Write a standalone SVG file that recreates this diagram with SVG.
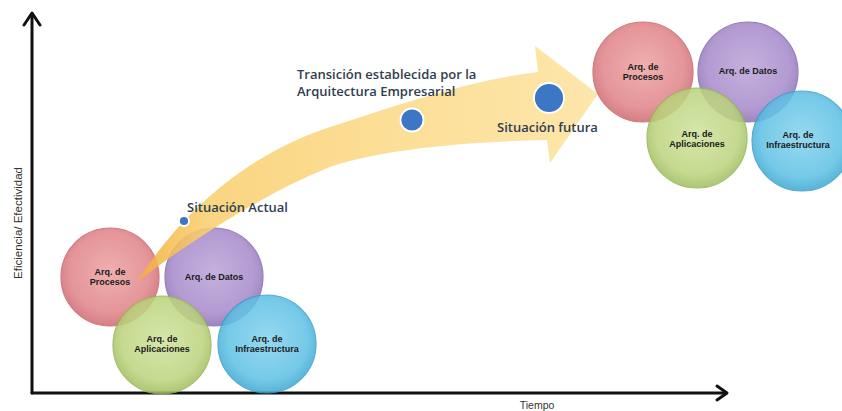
<svg xmlns="http://www.w3.org/2000/svg" width="842" height="411" viewBox="0 0 842 411">
<defs>
<radialGradient id="gRed" cx="50%" cy="45%" r="55%"><stop offset="0" stop-color="#eea3a3"/><stop offset="0.75" stop-color="#e08489"/><stop offset="1" stop-color="#cd6a72"/></radialGradient>
<radialGradient id="gPur" cx="50%" cy="45%" r="55%"><stop offset="0" stop-color="#bba4d8"/><stop offset="0.75" stop-color="#a78bcb"/><stop offset="1" stop-color="#8d72b6"/></radialGradient>
<radialGradient id="gGrn" cx="50%" cy="45%" r="55%"><stop offset="0" stop-color="#cfe39c"/><stop offset="0.75" stop-color="#bcd47e"/><stop offset="1" stop-color="#a0bd5e"/></radialGradient>
<radialGradient id="gBlu" cx="50%" cy="45%" r="55%"><stop offset="0" stop-color="#86d3ee"/><stop offset="0.75" stop-color="#5fc1e5"/><stop offset="1" stop-color="#3ea8d2"/></radialGradient>
<linearGradient id="gBand" x1="137" y1="0" x2="600" y2="0" gradientUnits="userSpaceOnUse"><stop offset="0" stop-color="#f2ae3a"/><stop offset="0.15" stop-color="#f9cf70"/><stop offset="0.5" stop-color="#fbd986"/><stop offset="1" stop-color="#fde3a0"/></linearGradient>
<style>
.c{opacity:0.86;stroke-width:1.2}
.red{fill:url(#gRed);stroke:#c8656d}
.pur{fill:url(#gPur);stroke:#866aae}
.grn{fill:url(#gGrn);stroke:#97b556}
.blu{fill:url(#gBlu);stroke:#38a0c9}
.t{font-family:"Liberation Sans",Arial,sans-serif;font-weight:bold;font-size:9px;fill:#1a1a1a;text-anchor:middle}
.lab{font-family:"Open Sans","Liberation Sans",sans-serif;font-weight:600;font-size:13px;fill:#2f3d4f}
.ax{fill:none;stroke:#111;stroke-width:3;stroke-linecap:round;stroke-linejoin:round}
.dot{fill:#3c77c5;stroke:#ffffff;stroke-width:1.8}
</style>
</defs>
<rect width="842" height="411" fill="#ffffff"/>

<g id="axes">
<path class="ax" d="M32,393 L32,14"/>
<path class="ax" d="M24,25 L32,13 L40,25"/>
<path class="ax" d="M32,393 L726,393"/>
<path class="ax" d="M717,386 L727,393 L717,400"/>
<text x="22" y="223" transform="rotate(-90 22 223)" font-family="Liberation Sans, Arial, sans-serif" font-size="11.5" fill="#333" text-anchor="middle">Eficiencia/ Efectividad</text>
<text x="537" y="409" font-family="Liberation Sans, Arial, sans-serif" font-size="10.5" fill="#333" text-anchor="middle">Tiempo</text>
</g>

<g id="actual-procesos"><circle class="c red" cx="110" cy="277" r="49"/><text class="t" x="110" y="275">Arq. de</text><text class="t" x="110" y="285">Procesos</text></g>
<g id="actual-datos"><circle class="c pur" cx="214" cy="277" r="49"/><text class="t" x="214" y="280">Arq. de Datos</text></g>
<g id="actual-aplicaciones"><circle class="c grn" cx="162" cy="345" r="49"/><text class="t" x="162" y="342">Arq. de</text><text class="t" x="162" y="352">Aplicaciones</text></g>
<g id="actual-infraestructura"><circle class="c blu" cx="267" cy="344" r="49"/><text class="t" x="267" y="342">Arq. de</text><text class="t" x="267" y="352">Infraestructura</text></g>

<g id="connectors">
<path d="M137,282 C170,230 230,160 330,127 C400,104 470,80 538,72 L535,46 L598,94 L550,163 L547,140 C460,142 380,150 330,167 C260,195 185,245 137,282 Z" fill="url(#gBand)" opacity="0.88"/>
</g>

<g id="dot-actual"><circle class="dot" cx="184" cy="221" r="5"/><text class="lab" x="187" y="212">Situación Actual</text></g>
<g id="dot-transicion"><circle class="dot" cx="412" cy="120" r="11.5"/><text class="lab" x="297" y="79" font-size="12.5">Transición establecida por la</text><text class="lab" x="297" y="96" font-size="12.5">Arquitectura Empresarial</text></g>
<g id="dot-futura"><circle class="dot" cx="549" cy="98" r="15"/><text class="lab" x="497" y="132">Situación futura</text></g>

<g id="futura-procesos"><circle class="c red" cx="643" cy="72" r="50"/><text class="t" x="643" y="70">Arq. de</text><text class="t" x="643" y="80">Procesos</text></g>
<g id="futura-datos"><circle class="c pur" cx="748" cy="72" r="50"/><text class="t" x="748" y="74">Arq. de Datos</text></g>
<g id="futura-aplicaciones"><circle class="c grn" cx="697" cy="138" r="50"/><text class="t" x="697" y="137">Arq. de</text><text class="t" x="697" y="147">Aplicaciones</text></g>
<g id="futura-infraestructura"><circle class="c blu" cx="802" cy="141" r="50"/><text class="t" x="798" y="138">Arq. de</text><text class="t" x="798" y="148">Infraestructura</text></g>
</svg>
